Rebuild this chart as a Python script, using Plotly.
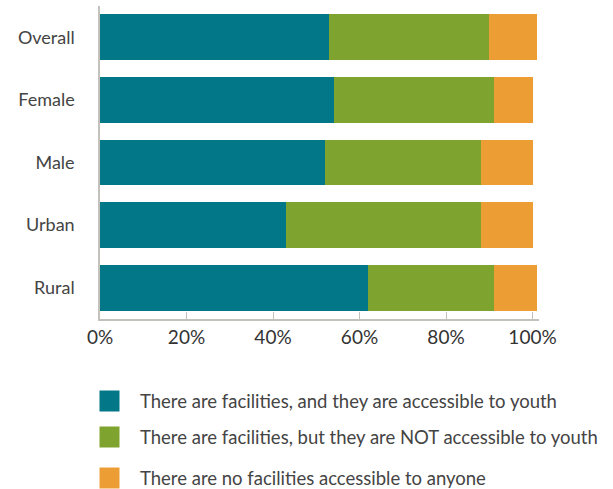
import plotly.graph_objects as go

categories = ["Overall", "Female", "Male", "Urban", "Rural"]
accessible = [53, 54, 52, 43, 62]
not_accessible = [37, 37, 36, 45, 29]
no_facilities = [11, 9, 12, 12, 10]
series_names = [
    "There are facilities, and they are accessible to youth",
    "There are facilities, but they are NOT accessible to youth",
    "There are no facilities accessible to anyone",
]
colors = ["#017788", "#7ea32f", "#ec9e34"]
x_ticks = [0, 20, 40, 60, 80, 100]
x_tick_labels = ["0%", "20%", "40%", "60%", "80%", "100%"]

W, H = 613, 489
L, R, T, B = 100, 74, 6, 170
PW, PH = W - L - R, H - T - B

def px_x(p):
    return (p - L) / PW

def px_y(p):
    return 1 - (p - T) / PH

FONT = "Lato, 'Open Sans', sans-serif"

fig = go.Figure()
for name, vals, col in zip(series_names, [accessible, not_accessible, no_facilities], colors):
    fig.add_trace(go.Bar(
        y=categories, x=vals, name=name, orientation="h",
        marker=dict(color=col, line=dict(width=0)),
        showlegend=False, hoverinfo="x+name",
    ))

# manual legend (bigger swatches as in reference)
leg_y = [401, 437, 478]
for name, col, yc in zip(series_names, colors, leg_y):
    fig.add_shape(type="rect", xref="paper", yref="paper",
                  x0=px_x(99.5), x1=px_x(119.5), y0=px_y(yc - 10.5), y1=px_y(yc + 10.5),
                  fillcolor=col, line=dict(width=0))
    fig.add_annotation(xref="paper", yref="paper", x=px_x(138), y=px_y(yc),
                       xanchor="left", yanchor="middle", showarrow=False,
                       text=name, font=dict(family=FONT, size=18.5, color="#444444"))

fig.update_layout(
    width=W, height=H,
    margin=dict(l=L, r=R, t=T, b=B, pad=0),
    barmode="stack", bargap=0.267,
    plot_bgcolor="white", paper_bgcolor="white",
    font=dict(family=FONT, color="#444444"),
    showlegend=False,
    xaxis=dict(
        range=[0, 101.5], tickvals=x_ticks, ticktext=x_tick_labels,
        showgrid=False, zeroline=False,
        showline=True, linecolor="#c4c1bc", linewidth=1.5,
        ticks="inside", ticklen=7, tickwidth=1.2, tickcolor="#c4c1bc",
        tickfont=dict(family=FONT, size=19, color="#333333"),
        fixedrange=True,
    ),
    yaxis=dict(
        categoryorder="array", categoryarray=categories, autorange="reversed",
        showgrid=False, zeroline=False,
        showline=True, linecolor="#c4c1bc", linewidth=1.5,
        ticks="", ticklabelstandoff=20,
        tickfont=dict(family=FONT, size=18, color="#444444"),
        fixedrange=True,
    ),
)

fig.write_html(
    "out.html",
    config={"displayModeBar": False},
    post_script="document.body.style.margin='0';document.body.style.overflow='hidden';",
)
